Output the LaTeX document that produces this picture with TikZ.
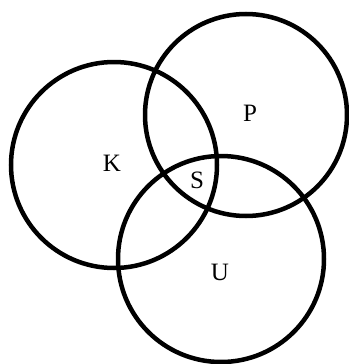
\documentclass[tikz,border=0pt]{standalone}
\usepackage{fontspec}
\setmainfont{Liberation Serif}
\usetikzlibrary{positioning}

\begin{document}
\begin{tikzpicture}[x=1pt, y=-1pt,
      ring/.style={draw, line width=4.5pt},
      lbl/.style={font=\fontsize{25}{25}\selectfont, inner sep=0pt}]
    \useasboundingbox (0,0) rectangle (348,364);
    \draw[ring] (114,165) circle[radius=103];
    \draw[ring] (246,115) circle[radius=101];
    \draw[ring] (221,259) circle[radius=103];
    \node[lbl] (k) at (112,163) {K};
    \node[lbl] (p) at (250,113) {P};
    \node[lbl] (s) at (197,180) {S};
    \node[lbl] (u) at (220,272) {U};
  \end{tikzpicture}
\end{document}
